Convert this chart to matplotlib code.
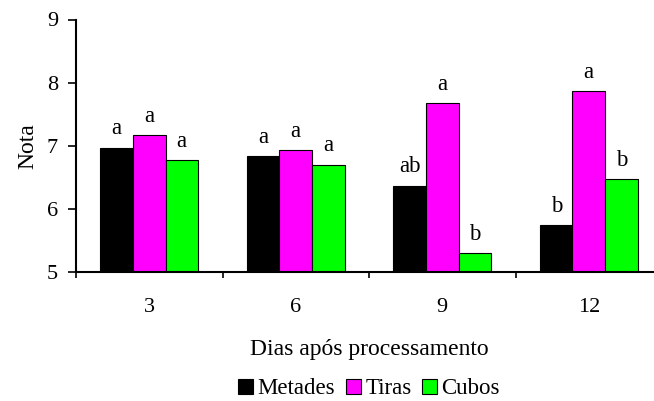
import numpy as np
import matplotlib.pyplot as plt
from matplotlib.patches import Patch

plt.rcParams['font.family'] = ['Liberation Serif', 'DejaVu Serif']

dias = ['3', '6', '9', '12']
series = ['Metades', 'Tiras', 'Cubos']
metades = [6.97, 6.84, 6.37, 5.74]
tiras = [7.17, 6.93, 7.67, 7.87]
cubos = [6.77, 6.70, 5.30, 6.47]
letras_metades = ['a', 'a', 'ab', 'b']
letras_tiras = ['a', 'a', 'a', 'a']
letras_cubos = ['a', 'a', 'b', 'b']
cores = ['#000000', '#ff00ff', '#00ff00']

fig = plt.figure(figsize=(6.54, 4.01), dpi=100)
# axes right edge runs slightly past the figure, like the original
ax = fig.add_axes([76 / 654, 1 - 272 / 401, 586 / 654, (272 - 19.5) / 401])

x = np.arange(len(dias))
w = 0.222
valores = [metades, tiras, cubos]
letras = [letras_metades, letras_tiras, letras_cubos]
for i in range(3):
    pos = x + (i - 1) * w
    ax.bar(pos, valores[i], width=w, bottom=0, color=cores[i],
           edgecolor='black', linewidth=0.8, zorder=2)
    for xp, v, t in zip(pos, valores[i], letras[i]):
        ax.annotate(t, (xp, v), xytext=(0, 9.5), textcoords='offset points',
                    ha='center', va='baseline', fontsize=16.5)

ax.set_ylim(5, 9)
ax.set_xlim(-0.5, 3.5)
ax.set_yticks([5, 6, 7, 8, 9])
ax.tick_params(axis='y', direction='out', length=6, width=1.2, pad=7,
               labelsize=16)

# category labels at centres, tick marks at the group boundaries
ax.set_xticks(x)
ax.set_xticklabels(dias)
ax.tick_params(axis='x', which='major', length=0, pad=18.5, labelsize=16)
ax.set_xticks(np.arange(-0.5, 4.0, 1.0), minor=True)
ax.tick_params(axis='x', which='minor', direction='out', length=4, width=1.2)

for s in ['top', 'right']:
    ax.spines[s].set_visible(False)
ax.spines['left'].set_linewidth(1.5)
ax.spines['bottom'].set_linewidth(1.5)

ax.set_ylabel('Nota', fontsize=17)
ax.yaxis.set_label_coords(-0.065, 0.5)
fig.text(369 / 654, 1 - 355 / 401, 'Dias após processamento',
         ha='center', va='baseline', fontsize=17)

handles = [Patch(facecolor=c, edgecolor='black', linewidth=0.8) for c in cores]
fig.legend(handles, series, loc='center', bbox_to_anchor=(369 / 654, 1 - 389 / 401),
           ncol=3, frameon=False, fontsize=16.5, handlelength=0.65, handleheight=0.65,
           handletextpad=0.2, columnspacing=0.45, borderpad=0)

fig.savefig('out.png', dpi=100)
